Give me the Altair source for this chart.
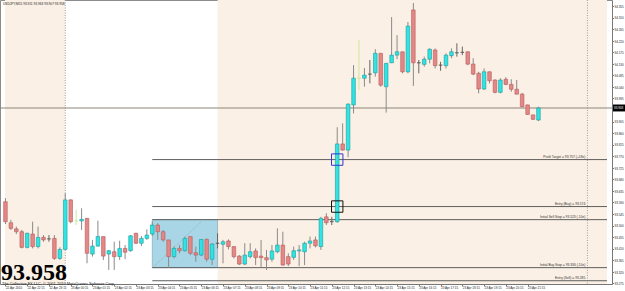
import json
import altair as alt
import pandas as pd

# ---------------- data ----------------
opens = [93.593, 93.511, 93.487, 93.476, 93.415, 93.467, 93.418, 93.454, 93.448, 93.450,
         93.372, 93.407, 93.600, 93.518, 93.518, 93.528, 93.389, 93.420, 93.457, 93.389,
         93.398, 93.379, 93.411, 93.402, 93.470, 93.431, 93.450, 93.467, 93.502, 93.476,
         93.444, 93.379, 93.411, 93.402, 93.457, 93.394, 93.385, 93.446, 93.369, 93.431,
         93.427, 93.440, 93.418, 93.381, 93.350, 93.379, 93.401, 93.381, 93.375, 93.369,
         93.398, 93.424, 93.379, 93.376, 93.401, 93.398, 93.431, 93.444, 93.418, 93.534,
         93.515, 93.515, 93.818, 93.794, 93.970, 94.074, 94.074, 94.090, 94.095, 94.171,
         94.041, 94.134, 94.164, 94.177, 94.099, 94.340, 94.134, 94.128, 94.148, 94.184,
         94.125, 94.123, 94.162, 94.173, 94.175, 94.177, 94.129, 94.093, 94.032, 94.099,
         94.067, 94.019, 94.070, 94.050, 94.031, 94.012, 93.970, 93.931, 93.911]
highs = [93.607, 93.522, 93.496, 93.483, 93.472, 93.515, 93.496, 93.463, 93.463, 93.463,
         93.415, 93.626, 93.602, 93.561, 93.567, 93.529, 93.444, 93.519, 93.457, 93.405,
         93.437, 93.441, 93.424, 93.463, 93.472, 93.459, 93.485, 93.515, 93.509, 93.483,
         93.444, 93.418, 93.424, 93.457, 93.457, 93.418, 93.446, 93.450, 93.431, 93.470,
         93.444, 93.446, 93.420, 93.385, 93.431, 93.431, 93.411, 93.444, 93.405, 93.424,
         93.489, 93.476, 93.392, 93.418, 93.424, 93.437, 93.457, 93.457, 93.534, 93.548,
         93.534, 93.883, 93.898, 93.976, 94.125, 94.223, 94.114, 94.145, 94.187, 94.171,
         94.132, 94.312, 94.242, 94.177, 94.293, 94.367, 94.145, 94.158, 94.190, 94.190,
         94.138, 94.171, 94.190, 94.210, 94.197, 94.178, 94.152, 94.099, 94.112, 94.100,
         94.070, 94.074, 94.078, 94.070, 94.067, 94.017, 93.971, 93.932, 93.963]
lows = [93.506, 93.483, 93.467, 93.411, 93.411, 93.411, 93.411, 93.437, 93.437, 93.366,
        93.366, 93.405, 93.509, 93.502, 93.483, 93.353, 93.379, 93.418, 93.366, 93.327,
        93.327, 93.366, 93.369, 93.398, 93.428, 93.420, 93.444, 93.459, 93.444, 93.437,
        93.335, 93.372, 93.392, 93.398, 93.385, 93.359, 93.381, 93.359, 93.346, 93.411,
        93.353, 93.407, 93.372, 93.346, 93.346, 93.372, 93.346, 93.337, 93.327, 93.359,
        93.392, 93.344, 93.342, 93.366, 93.342, 93.346, 93.411, 93.415, 93.405, 93.502,
        93.502, 93.511, 93.792, 93.766, 93.937, 94.028, 94.041, 94.054, 94.080, 94.041,
        93.940, 94.134, 94.148, 94.093, 94.093, 94.044, 94.093, 94.119, 94.132, 94.112,
        94.103, 94.112, 94.152, 94.158, 94.164, 94.125, 94.086, 94.015, 94.028, 94.054,
        94.015, 94.015, 94.047, 94.021, 94.011, 93.961, 93.931, 93.911, 93.907]
closes = [93.515, 93.489, 93.476, 93.415, 93.470, 93.418, 93.454, 93.444, 93.448, 93.372,
          93.407, 93.600, 93.515, 93.518, 93.524, 93.392, 93.420, 93.457, 93.381, 93.402,
          93.379, 93.411, 93.396, 93.460, 93.431, 93.450, 93.463, 93.502, 93.476, 93.444,
          93.379, 93.411, 93.402, 93.450, 93.392, 93.385, 93.446, 93.369, 93.428, 93.431,
          93.437, 93.418, 93.379, 93.350, 93.385, 93.398, 93.375, 93.375, 93.366, 93.401,
          93.424, 93.346, 93.350, 93.402, 93.405, 93.431, 93.440, 93.421, 93.528, 93.511,
          93.515, 93.818, 93.794, 93.973, 94.074, 94.074, 94.086, 94.090, 94.171, 94.047,
          94.132, 94.164, 94.177, 94.099, 94.277, 94.134, 94.134, 94.148, 94.187, 94.123,
          94.125, 94.164, 94.177, 94.173, 94.175, 94.129, 94.090, 94.032, 94.099, 94.064,
          94.019, 94.067, 94.050, 94.031, 94.012, 93.963, 93.933, 93.914, 93.958]
marked_bars = [13, 65]          # bars drawn in light green

time_labels = ["22 Apr 2010", "22 Apr 22:15", "22 Apr 23:15", "23 Apr 00:15", "23 Apr 01:15",
               "23 Apr 02:15", "23 Apr 03:15", "23 Apr 04:15", "23 Apr 05:15", "23 Apr 06:15",
               "23 Apr 07:15", "23 Apr 08:15", "23 Apr 09:15", "23 Apr 10:15", "23 Apr 11:15",
               "23 Apr 12:15", "23 Apr 13:15", "23 Apr 14:15", "23 Apr 15:15", "23 Apr 16:15",
               "23 Apr 17:15", "23 Apr 18:15", "23 Apr 19:15", "23 Apr 20:15", "23 Apr 21:15"]
time_tick_bars = [4 * k for k in range(len(time_labels))]
price_ticks = [93.275, 93.320, 93.365, 93.410, 93.455, 93.500, 93.545, 93.590, 93.635,
               93.680, 93.725, 93.770, 93.815, 93.860, 93.905, 93.995, 94.040, 94.085,
               94.130, 94.175, 94.220, 94.265, 94.310, 94.355]

current_price = 93.958
level_names = ["Profit Target = 93.757 (+18s)", "Entry (Buy) = 93.574",
               "Initial Sell Stop = 93.523 (-10s)", "Initial Buy Stop = 93.336 (-10s)",
               "Entry (Sell) = 93.285"]
level_prices = [93.757, 93.574, 93.523, 93.336, 93.285]
level_start_bar = 27
box_start_bar, box_end_bar = 27, 39
box_top, box_bottom = 93.523, 93.336
session_starts = [-0.08, 39]
session_ends = [11, 110.6]
separator_bars = [11, 107]
marker_bar = 61
marker_prices = [93.757, 93.574]
marker_kinds = ["target", "entry"]
trend_x, trend_y, trend_x2, trend_y2 = 27, 93.335, 36, 93.515

X_DOMAIN = [-0.08, 110.6]
Y_DOMAIN = [93.2723, 94.3787]

# ---------------- tables ----------------
kinds = []
for i, (o, c) in enumerate(zip(opens, closes)):
    if i in marked_bars:
        kinds.append("mark")
    elif c > o:
        kinds.append("up")
    elif c < o:
        kinds.append("down")
    else:
        kinds.append("doji")
bars = pd.DataFrame({"i": range(len(opens)), "open": opens, "high": highs,
                     "low": lows, "close": closes, "kind": kinds})
bars["xl"] = bars["i"] - 0.33
bars["xr"] = bars["i"] + 0.33

sessions = pd.DataFrame({"s": session_starts, "e": session_ends})
seps = pd.DataFrame({"b": separator_bars})
levels = pd.DataFrame({"name": level_names, "p": level_prices,
                       "x1": level_start_bar, "x2": X_DOMAIN[1], "xt": 106.6})
box = pd.DataFrame({"x1": [box_start_bar], "x2": [box_end_bar], "y1": [box_top], "y2": [box_bottom]})
cur = pd.DataFrame({"p": [current_price], "hi": [current_price + 0.0135],
                    "lo": [current_price - 0.0135], "t": [f"{current_price:.3f}"]})
markers = pd.DataFrame({"b": marker_bar, "p": marker_prices, "k": marker_kinds})
trend = pd.DataFrame({"x": [trend_x], "y": [trend_y], "x2": [trend_x2], "y2": [trend_y2]})

FONT = "Liberation Sans"
xs = alt.Scale(domain=X_DOMAIN, nice=False, zero=False)
ys = alt.Scale(domain=Y_DOMAIN, nice=False, zero=False)

label_expr = json.dumps(time_labels) + "[round(datum.value / 4)]"
x_axis = alt.Axis(orient="bottom", values=time_tick_bars, labelExpr=label_expr,
                  labelAlign="left", labelBaseline="top", labelFontSize=3.0, labelFont=FONT,
                  labelColor="#222", tickSize=2, tickColor="#777", domainColor="#777",
                  labelPadding=0.5, grid=False, title=None, labelOverlap=False,
                  labelFlush=False, labelBound=False)
y_axis = alt.Axis(orient="right", values=price_ticks, format=".3f", labelFontSize=3.0,
                  labelFont=FONT, labelColor="#222", tickSize=1.5, tickColor="#777",
                  domainColor="#777", labelPadding=0.5, grid=False, title=None,
                  labelOverlap=False, labelBound=False, labelFlush=False)


def X(field):
    return alt.X(field, type="quantitative", scale=xs, axis=x_axis)


def Y(field):
    return alt.Y(field, type="quantitative", scale=ys, axis=y_axis)


kind_dom = ["up", "down", "doji", "mark"]
fill_scale = alt.Scale(domain=kind_dom, range=["#2fe4e4", "#e48787", "#555555", "#cfe59c"])
stroke_scale = alt.Scale(domain=kind_dom, range=["#1b9a9a", "#b35a5a", "#555555", "#c2dc88"])
wick_scale = alt.Scale(domain=kind_dom, range=["#8a8a8a", "#8a8a8a", "#666666", "#cfe59c"])
doji_scale = alt.Scale(domain=kind_dom, range=["#555555", "#555555", "#555555", "#cfe59c"])
marker_scale = alt.Scale(domain=["target", "entry"], range=["#3434d0", "#111111"])

band_layer = alt.Chart(sessions).mark_rect(color="#fbf0e5").encode(x=X("s"), x2="e:Q")

sep_layer = alt.Chart(seps).mark_rule(color="#8a8a8a", strokeDash=[1, 1.5], strokeWidth=0.8).encode(
    x=X("b"))

box_layer = alt.Chart(box).mark_rect(color="#a9d6e6", stroke="#6f8f9c", strokeWidth=0.5).encode(
    x=X("x1"), x2="x2:Q", y=Y("y1"), y2="y2:Q")

trend_layer = alt.Chart(trend).mark_rule(color="#8aa3ad", strokeDash=[1, 1], strokeWidth=0.7).encode(
    x=X("x"), x2="x2:Q", y=Y("y"), y2="y2:Q")

cur_line = alt.Chart(cur).mark_rule(color="#8c8778", strokeWidth=1).encode(y=Y("p"))

level_lines = alt.Chart(levels).mark_rule(color="#5f5f5f", strokeWidth=1).encode(
    x=X("x1"), x2="x2:Q", y=Y("p"))

wicks = alt.Chart(bars).mark_rule(strokeWidth=1).encode(
    x=X("i"), y=Y("low"), y2="high:Q",
    color=alt.Color("kind:N", scale=wick_scale, legend=None))

bodies = alt.Chart(bars).transform_filter("datum.kind == 'up' || datum.kind == 'down'").mark_bar(
    size=3.6, strokeWidth=0.6).encode(
    x=X("i"), y=Y("open"), y2="close:Q",
    fill=alt.Fill("kind:N", scale=fill_scale, legend=None),
    stroke=alt.Stroke("kind:N", scale=stroke_scale, legend=None))

dojis = alt.Chart(bars).transform_filter("datum.kind == 'doji' || datum.kind == 'mark'").mark_rule(
    strokeWidth=1).encode(
    x=X("xl"), x2="xr:Q", y=Y("close"),
    color=alt.Color("kind:N", scale=doji_scale, legend=None))

marker_layer = alt.Chart(markers).mark_point(shape="square", filled=False, size=130, strokeWidth=1,
                                             opacity=1).encode(
    x=X("b"), y=Y("p"),
    color=alt.Color("k:N", scale=marker_scale, legend=None))

level_text = alt.Chart(levels).mark_text(align="right", baseline="bottom", dy=-0.3, fontSize=3.3,
                                         font=FONT, color="#333").encode(
    x=X("xt"), y=Y("p"), text="name:N")

tag_rect = alt.Chart(cur).mark_rect(color="#000000").encode(
    x=alt.value(613), x2=alt.value(625), y=Y("hi"), y2="lo:Q")
tag_text = alt.Chart(cur).mark_text(align="left", baseline="middle", fontSize=3.0, font=FONT,
                                    color="#ffffff").encode(
    x=alt.value(614), y=Y("p"), text="t:N")

info = pd.DataFrame({"t": ["USDJPY,M15  93.911 93.963 93.907 93.958"]})
info_text = alt.Chart(info).mark_text(align="left", baseline="middle", fontSize=3.2, font=FONT,
                                      color="#222").encode(x=alt.value(3), y=alt.value(4), text="t:N")
big = pd.DataFrame({"t": [f"{current_price:.3f}"]})
big_text = alt.Chart(big).mark_text(align="left", baseline="alphabetic", fontSize=24,
                                    font="Liberation Sans Narrow", fontWeight="bold",
                                    color="#000").encode(x=alt.value(1), y=alt.value(279.5), text="t:N")
copy = pd.DataFrame({"t": ["The Collective FX LLC, © 2001-2010 MetaQuotes Software Corp."]})
copy_text = alt.Chart(copy).mark_text(align="left", baseline="alphabetic", fontSize=3.9, font=FONT,
                                      color="#222").encode(x=alt.value(2), y=alt.value(284.6), text="t:N")

chart = alt.layer(
    band_layer, sep_layer, box_layer, trend_layer, cur_line, level_lines,
    wicks, bodies, dojis, marker_layer, level_text, tag_rect, tag_text,
    info_text, big_text, copy_text
).resolve_scale(
    color="independent", fill="independent", stroke="independent"
).properties(
    width=612, height=284, background="#ffffff",
    padding={"left": 0, "top": 0, "right": 13, "bottom": 7},
    autosize=alt.AutoSizeParams(type="none")
).configure_view(stroke="#8c8c8c", strokeWidth=1)

chart.save("out.html", embed_options={"renderer": "svg", "actions": False})
